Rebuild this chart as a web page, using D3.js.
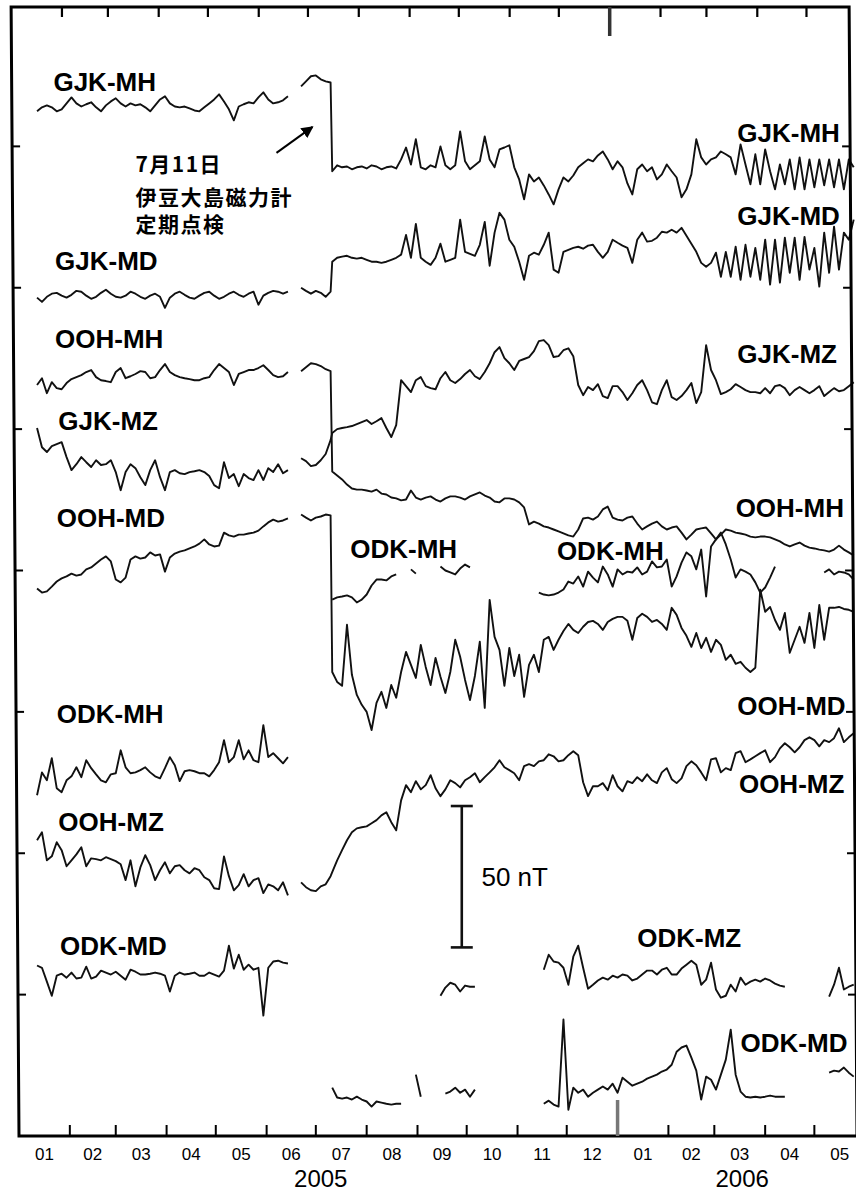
<!DOCTYPE html>
<html>
<head>
<meta charset="utf-8">
<script src="https://cdn.jsdelivr.net/npm/d3@7"></script>
<style>
  html, body { margin: 0; padding: 0; background: #fff; overflow: hidden; }
  svg { display: block; }
</style>
</head>
<body>
<svg id="chart" width="856" height="1192" viewBox="0 0 856 1192"></svg>
<script>
// ---- Sampling of the records (one value every 3 days) ----
const leftStart = "2005-01-12";   // first block, up to mid June 2005
const preStart  = "2005-06-22";   // after the June gap, up to 10 July
const postStart = "2005-07-11";   // from the 11 July inspection onward
const stepDays  = 3;

// Values in nT; each component is shifted for display (50 nT per axis tick).
// ---- GJK ----
const gjkMH_left = [362.4, 363.8, 364.5, 363.8, 362.4, 363.1, 365.2, 367.3, 365.2, 364.1,
  364.9, 365.6, 363.8, 362.4, 364.5, 365.9, 367.0, 365.2, 364.1, 365.2,
  364.5, 364.9, 363.8, 362.4, 364.5, 366.6, 367.7, 365.2, 364.1, 363.8,
  364.1, 363.4, 362.7, 362.4, 363.8, 365.2, 366.6, 368.4, 365.9, 363.1,
  359.2, 364.1, 364.9, 365.6, 365.2, 367.3, 369.1, 366.6, 365.2, 365.6,
  366.3, 367.7];
const gjkMH_pre = [371.2, 373.0, 374.8, 375.1, 373.7, 373.0, 372.6];
const gjkMH_post = [341.2, 343.3, 342.6, 342.9, 341.9, 342.6, 342.9, 342.2, 343.3, 342.9,
  341.9, 342.6, 342.9, 342.2, 345.4, 349.6, 343.6, 352.5, 342.6, 341.9,
  343.3, 342.6, 350.0, 343.3, 341.9, 343.3, 355.3, 344.7, 341.9, 343.3,
  344.7, 353.5, 345.4, 342.6, 348.9, 349.6, 350.4, 342.6, 338.3, 331.3,
  340.1, 337.6, 339.0, 336.2, 333.0, 329.5, 334.8, 339.0, 337.6, 339.7,
  342.6, 344.0, 345.4, 344.7, 346.8, 348.2, 345.4, 341.9, 344.7, 342.6,
  336.9, 333.0, 341.9, 343.6, 341.2, 342.6, 338.3, 340.1, 343.6, 341.2,
  339.0, 332.0, 334.8, 340.1, 352.5, 346.1, 343.6, 345.4, 346.1, 348.2,
  347.2, 346.1, 340.1, 350.7, 343.6, 336.6, 347.2, 336.6, 348.9, 341.2,
  334.8, 343.6, 336.6, 345.4, 334.8, 346.1, 334.8, 345.4, 335.5, 345.4,
  336.2, 345.4, 335.5, 345.4, 334.8, 345.4, 342.6];

const gjkMD_left = [296.5, 295.0, 296.8, 297.9, 298.2, 297.2, 296.5, 297.5, 298.9, 298.6,
  297.2, 296.1, 296.8, 298.2, 299.3, 297.9, 296.8, 296.5, 297.2, 298.6,
  297.9, 296.8, 296.1, 297.2, 297.9, 296.8, 292.9, 296.5, 297.9, 298.6,
  297.5, 296.5, 296.1, 297.2, 298.2, 298.6, 297.2, 296.1, 296.8, 297.9,
  298.6, 297.5, 296.8, 297.9, 298.6, 294.0, 297.2, 298.2, 298.9, 298.6,
  297.9, 298.6];
const gjkMD_pre = [300.0, 298.9, 297.9, 298.9, 298.2, 296.8, 298.6];
const gjkMD_post = [309.2, 310.6, 311.0, 311.3, 310.6, 310.3, 310.6, 309.9, 309.2, 309.2,
  308.8, 309.2, 309.9, 310.6, 311.7, 318.7, 310.6, 322.6, 310.6, 309.2,
  308.1, 310.6, 315.6, 309.2, 309.9, 310.6, 324.1, 312.7, 312.0, 311.3,
  315.2, 323.3, 307.8, 319.5, 326.5, 324.1, 317.0, 314.5, 309.2, 302.8,
  311.3, 312.4, 311.7, 315.2, 319.5, 306.4, 305.3, 312.7, 313.4, 314.1,
  314.5, 313.8, 314.9, 315.2, 312.7, 310.6, 312.7, 317.0, 315.9, 314.9,
  314.1, 308.8, 317.0, 319.5, 316.3, 316.6, 317.7, 319.8, 319.5, 320.5,
  319.5, 321.2, 318.4, 315.6, 312.7, 308.8, 307.4, 308.8, 312.4, 303.9,
  312.7, 303.9, 314.5, 302.8, 315.2, 303.9, 314.1, 302.8, 317.0, 301.1,
  317.0, 301.8, 317.7, 305.3, 317.7, 302.8, 318.0, 306.4, 314.1, 300.4,
  319.5, 305.3, 321.6, 306.4, 319.5, 317.0, 324.1];

const gjkMZ_left = [250.4, 243.6, 241.9, 244.0, 244.7, 245.4, 240.1, 235.5, 237.6, 240.1,
  238.3, 236.6, 239.0, 237.3, 237.6, 239.0, 234.8, 228.4, 234.8, 237.6,
  236.2, 233.0, 230.2, 235.5, 239.0, 233.0, 228.4, 234.8, 235.5, 234.4,
  234.1, 234.8, 235.1, 235.5, 234.8, 233.4, 230.2, 229.1, 238.3, 232.7,
  234.1, 229.8, 234.1, 232.7, 232.0, 235.5, 232.0, 236.2, 234.8, 237.6,
  234.4, 235.5];
const gjkMZ_pre = [239.7, 238.7, 236.9, 237.3, 239.0, 241.2, 246.1];
const gjkMZ_post = [248.6, 250.0, 250.4, 250.7, 251.1, 251.8, 252.5, 253.2, 251.8, 252.8,
  253.9, 250.4, 247.2, 251.4, 267.3, 265.2, 263.1, 267.3, 268.4, 265.2,
  264.5, 264.1, 268.0, 270.2, 267.3, 266.3, 267.7, 269.5, 270.9, 268.7,
  267.7, 270.2, 273.3, 277.2, 279.0, 275.1, 273.3, 270.9, 274.1, 274.8,
  275.5, 277.6, 281.1, 281.5, 279.7, 275.5, 275.8, 277.9, 278.6, 275.8,
  265.6, 262.0, 264.9, 263.8, 265.9, 261.7, 261.0, 265.2, 265.2, 263.1,
  260.3, 262.7, 265.6, 267.3, 263.8, 259.5, 258.8, 263.8, 267.3, 261.3,
  260.3, 261.7, 263.8, 266.3, 259.2, 263.1, 279.7, 270.9, 267.3, 262.4,
  263.1, 264.1, 265.9, 264.9, 263.8, 263.1, 263.1, 262.7, 264.5, 262.7,
  265.2, 265.6, 264.5, 262.0, 263.8, 264.9, 263.8, 262.7, 263.8, 265.2,
  261.7, 263.1, 264.5, 263.4, 263.8, 265.2, 266.6];

// ---- OOH ----
const oohMH_left = [265.6, 268.0, 262.7, 266.6, 264.5, 264.1, 266.3, 267.7, 268.4, 269.1,
  270.2, 270.9, 268.4, 267.3, 267.0, 266.6, 270.2, 271.6, 268.0, 268.7,
  269.5, 270.5, 270.2, 268.0, 268.4, 270.9, 273.0, 270.2, 269.1, 268.4,
  268.0, 267.7, 267.3, 267.3, 268.0, 268.4, 270.9, 273.0, 271.6, 270.2,
  265.6, 269.5, 270.2, 270.9, 270.9, 271.6, 272.6, 270.9, 269.1, 268.4,
  268.7, 270.2];
const oohMH_pre = [270.5, 271.9, 273.3, 273.0, 272.3, 271.2, 270.5];
const oohMH_post = [235.0, 233.6, 232.2, 230.4, 229.0, 228.6, 228.6, 228.3, 227.9, 228.6,
  227.2, 226.9, 225.8, 225.5, 224.8, 225.1, 228.3, 225.8, 225.1, 225.8,
  226.2, 225.1, 224.4, 225.5, 226.2, 226.2, 225.8, 225.1, 226.2, 226.9,
  227.6, 226.5, 225.8, 224.4, 224.1, 225.5, 225.5, 225.1, 224.1, 222.3,
  216.3, 217.3, 216.6, 215.6, 215.2, 214.5, 213.8, 213.1, 212.4, 212.0,
  214.5, 218.4, 218.7, 218.0, 219.1, 221.6, 222.6, 218.7, 218.0, 217.7,
  218.7, 219.1, 216.6, 214.5, 215.6, 216.6, 217.3, 215.6, 214.5, 215.2,
  215.6, 213.4, 211.0, 212.7, 214.5, 214.9, 215.2, 213.1, 211.0, 212.7,
  214.5, 214.1, 213.4, 213.1, 212.7, 212.0, 211.7, 212.0, 212.0, 211.7,
  211.0, 210.3, 209.2, 208.5, 209.2, 209.9, 208.8, 208.1, 207.8, 207.4,
  207.1, 206.7, 207.4, 208.8, 207.4, 206.4, 205.3];

const oohMD_left = [193.6, 192.2, 192.6, 194.3, 196.1, 197.2, 197.9, 198.9, 198.2, 198.6,
  200.4, 201.1, 202.5, 203.9, 205.0, 203.2, 196.8, 195.8, 197.5, 203.9,
  205.0, 204.2, 204.6, 206.4, 205.3, 205.7, 199.6, 204.6, 206.0, 206.7,
  207.1, 207.8, 208.5, 209.5, 211.0, 209.2, 208.5, 208.8, 213.4, 212.4,
  212.0, 212.7, 212.7, 213.1, 213.4, 214.1, 215.6, 217.0, 218.0, 217.3,
  217.7, 218.4];
const oohMD_pre = [219.8, 218.7, 217.7, 218.7, 219.1, 219.8, 219.5];
const oohMD_post = [164.1, 160.6, 159.2, 180.8, 163.1, 156.0, 152.5, 150.0, 143.6, 153.2,
  157.1, 151.4, 159.5, 155.0, 164.1, 171.2, 166.6, 162.0, 173.7, 165.9,
  159.5, 169.1, 162.4, 156.7, 164.1, 175.5, 169.5, 161.3, 154.2, 162.7,
  174.8, 151.4, 189.6, 176.5, 171.9, 159.2, 172.6, 162.7, 170.2, 155.3,
  166.6, 170.2, 164.1, 175.5, 176.5, 171.9, 175.5, 178.6, 181.1, 179.0,
  177.9, 180.1, 181.8, 182.2, 181.1, 179.0, 181.8, 182.9, 183.6, 183.6,
  182.2, 175.5, 183.2, 184.7, 183.6, 181.8, 182.5, 181.1, 179.0, 186.8,
  184.3, 179.7, 176.9, 173.0, 177.9, 172.6, 176.2, 171.2, 175.5, 173.7,
  168.4, 170.2, 167.0, 167.7, 165.6, 164.1, 165.6, 193.2, 185.4, 187.1,
  182.5, 179.0, 185.0, 170.9, 175.5, 180.1, 174.4, 185.0, 172.6, 187.8,
  175.5, 186.8, 186.8, 187.1, 186.4, 186.1, 185.4];

const oohMZ_left = [104.6, 107.4, 97.5, 98.9, 103.9, 101.1, 95.4, 97.5, 99.6, 102.1,
  95.4, 98.2, 97.9, 97.5, 98.6, 97.9, 97.2, 96.1, 90.5, 97.5,
  88.3, 95.0, 99.3, 95.8, 90.5, 94.0, 96.8, 92.9, 95.4, 95.8,
  94.0, 92.9, 94.7, 94.0, 91.5, 90.5, 87.6, 87.3, 98.9, 91.9,
  86.9, 88.7, 92.6, 88.3, 90.5, 91.2, 85.9, 89.0, 88.3, 86.9,
  89.7, 85.1];
const oohMZ_pre = [89.7, 88.0, 86.9, 86.6, 88.3, 89.0, 91.9];
const oohMZ_post = [93.3, 97.5, 101.1, 104.6, 107.4, 108.8, 109.2, 109.5, 110.6, 111.7,
  113.4, 114.5, 111.0, 108.1, 118.7, 124.1, 121.6, 125.5, 122.6, 124.1,
  127.6, 123.0, 120.2, 122.6, 125.8, 124.8, 123.3, 125.8, 126.9, 128.3,
  125.1, 126.9, 128.6, 130.4, 132.9, 130.4, 129.4, 128.3, 125.8, 130.8,
  131.5, 130.8, 132.5, 132.9, 135.0, 134.3, 132.5, 132.9, 134.7, 136.1,
  134.7, 125.1, 120.2, 123.7, 123.7, 124.8, 122.3, 127.6, 123.7, 121.9,
  125.5, 124.8, 126.9, 125.5, 127.9, 125.8, 124.8, 128.6, 130.1, 126.2,
  124.8, 126.5, 130.8, 132.5, 131.1, 128.6, 125.8, 133.2, 133.6, 128.6,
  130.1, 129.4, 135.4, 136.1, 132.2, 133.2, 134.3, 135.4, 136.4, 132.2,
  134.0, 137.1, 138.9, 137.5, 135.7, 137.5, 140.0, 141.0, 140.0, 137.8,
  140.0, 139.3, 140.7, 144.2, 139.3, 141.0, 142.4];

// ---- ODK (null = no record) ----
const odkMH_left = [120.5, 128.6, 125.8, 133.6, 123.0, 121.6, 125.8, 127.2, 130.4, 126.9,
  132.9, 130.1, 127.9, 125.8, 125.1, 127.9, 128.3, 136.4, 130.4, 128.3,
  128.6, 129.4, 130.4, 128.6, 127.2, 126.5, 130.1, 134.0, 131.1, 125.5,
  129.0, 129.4, 129.0, 128.3, 128.3, 127.2, 129.4, 132.2, 140.0, 132.2,
  134.0, 140.0, 133.2, 136.4, 132.9, 132.2, 145.3, 134.0, 135.4, 133.6,
  131.8, 134.0];
const odkMH_post = [189.7, 190.5, 190.8, 191.2, 190.5, 188.7, 189.7, 191.5, 194.7, 196.8,
  196.8, 196.5, 197.9, 198.6, null, null, 200.4, 198.9, null, null,
  null, null, 201.4, 200.0, 199.3, 198.6, 200.7, 202.1, 201.1, null,
  null, null, null, null, null, null, null, null, null, null,
  null, null, 192.2, 191.5, 191.2, 191.5, 192.2, 193.3, 196.1, 195.4,
  197.9, 194.3, 199.6, 197.5, 195.8, 201.4, 198.6, 194.3, 200.4, 198.6,
  199.6, 199.3, 201.1, 198.6, 199.6, 203.2, 201.1, 201.4, 203.9, 194.3,
  197.9, 202.8, 206.4, 205.0, 200.4, 207.4, 190.8, 208.5, 211.0, 213.4,
  209.2, 203.9, 197.5, 200.4, 199.6, 198.6, 195.8, 192.2, 194.0, 197.5,
  201.4, null, null, null, null, null, null, null, null, null,
  199.3, 200.4, 198.6, 199.6, 199.3, 198.6, 196.8];

const odkMZ_post = [null, null, null, null, null, null, null, null, null, null,
  null, null, null, null, null, null, null, null, null, null,
  null, null, 49.6, 52.5, 54.2, 53.5, 51.1, 53.2, 52.8, 52.8,
  null, null, null, null, null, null, null, null, null, null,
  null, null, null, 58.8, 64.1, 61.7, 61.3, 59.5, 53.5, 63.4,
  67.3, 59.5, 52.1, 53.5, 55.0, 56.0, 55.3, 56.7, 56.0, 57.1,
  56.7, 55.0, 55.7, 57.1, 58.5, 58.5, 57.1, 58.8, 59.5, 57.1,
  57.1, 59.2, 60.6, 62.0, 60.6, 53.5, 55.3, 61.3, 51.8, 48.9,
  49.6, 53.5, 51.1, 56.0, 53.5, 54.6, 55.3, 54.6, 55.7, 55.0,
  53.9, 53.2, 52.8, null, null, null, null, null, null, null,
  null, 49.3, 53.5, 59.5, 51.8, 52.8, 53.5];

const odkMD_left = [60.3, 59.5, 54.6, 49.6, 56.7, 57.4, 56.0, 57.8, 55.7, 56.0,
  59.9, 55.7, 56.4, 58.5, 57.8, 57.1, 58.1, 56.7, 55.3, 58.8,
  58.1, 57.1, 57.1, 57.4, 57.8, 57.4, 56.7, 51.1, 56.7, 57.8,
  57.1, 57.4, 57.8, 56.7, 56.7, 57.8, 57.1, 56.4, 58.5, 67.3,
  59.2, 64.1, 58.8, 60.6, 58.8, 59.5, 42.6, 59.5, 61.7, 62.0,
  61.3, 61.0];
const odkMD_post = [17.1, 13.6, 13.2, 13.6, 12.9, 13.9, 12.9, 12.2, 10.4, 12.2,
  11.8, 11.4, 11.1, 11.4, 11.4, null, null, 21.7, 13.9, null,
  null, null, null, 15.0, 15.7, 17.1, 15.3, 16.4, 13.9, 16.4,
  null, null, null, null, null, null, null, null, null, null,
  null, null, null, 11.4, 12.5, 11.1, 10.4, 41.2, 9.3, 17.1,
  15.3, 16.4, 13.9, 15.3, 16.4, 17.5, 16.4, 18.5, 15.3, 20.6,
  19.2, 17.8, 18.5, 19.2, 20.3, 21.0, 21.7, 22.8, 23.5, 25.2,
  29.8, 31.3, 32.0, 27.7, 23.1, 12.9, 21.0, 19.9, 16.4, 21.7,
  27.0, 37.6, 21.7, 15.7, 13.9, 13.6, 13.9, 13.6, 13.9, 14.3,
  13.9, 13.9, 13.9, null, null, null, null, null, null, null,
  null, 22.4, 23.1, 22.8, 24.2, 22.4, 21.0];

// ---- Axis text ----
const monthLabels = ["01", "02", "03", "04", "05", "06", "07", "08", "09", "10", "11", "12",
  "01", "02", "03", "04", "05"];
const yearLabels = [{ text: "2005", date: "2005-07-04" }, { text: "2006", date: "2006-03-18" }];
const tickStep = 50; // nT between axis ticks

// ---- Component names, placed beside their traces ----
const traceLabels = [
  { text: "GJK-MH", date: "2005-01-22", value: 369.6 },
  { text: "GJK-MD", date: "2005-01-23", value: 306.3 },
  { text: "OOH-MH", date: "2005-01-23", value: 278.7 },
  { text: "GJK-MZ", date: "2005-01-25", value: 249.7 },
  { text: "OOH-MD", date: "2005-01-24", value: 215.4 },
  { text: "ODK-MH", date: "2005-01-24", value: 146.1 },
  { text: "OOH-MZ", date: "2005-01-25", value: 107.9 },
  { text: "ODK-MD", date: "2005-01-26", value: 64.0 },
  { text: "GJK-MH", date: "2006-03-15", value: 351.5 },
  { text: "GJK-MD", date: "2006-03-15", value: 322.2 },
  { text: "GJK-MZ", date: "2006-03-15", value: 273.4 },
  { text: "OOH-MH", date: "2006-03-14", value: 218.9 },
  { text: "ODK-MH", date: "2005-07-22", value: 204.4 },
  { text: "ODK-MH", date: "2005-11-25", value: 203.7 },
  { text: "OOH-MD", date: "2006-03-15", value: 148.9 },
  { text: "OOH-MZ", date: "2006-03-16", value: 121.3 },
  { text: "ODK-MZ", date: "2006-01-13", value: 66.8 },
  { text: "ODK-MD", date: "2006-03-17", value: 29.7 }
];

const noteLines = [
  { text: "7月11日", value: 340.9 },
  { text: "伊豆大島磁力計", value: 329.3 },
  { text: "定期点検", value: 319.7 }
];
const noteDate = "2005-03-13";
const noteArrow = { from: { date: "2005-06-07", value: 347.7 }, to: { date: "2005-06-29", value: 356.9 } };

const scaleBar = { date: "2005-09-28", base: 66.7, length: 50, label: "50 nT", labelDate: "2005-10-10", labelValue: 88.4 };

// ---- Drawing ----
const parseDate = d3.utcParse("%Y-%m-%d");
const svg = d3.select("#chart");

const x = d3.scaleUtc()
  .domain([parseDate("2005-01-01"), parseDate("2006-05-27")])
  .range([19, 857]);
const y = d3.scaleLinear().domain([0, 400]).range([1136, 5]);

function samples(start, values) {
  const t0 = parseDate(start);
  return values.map((v, i) => ({ date: d3.utcDay.offset(t0, i * stepDays), v }));
}

const traces = [
  { left: gjkMH_left, pre: gjkMH_pre, post: gjkMH_post },
  { left: gjkMD_left, pre: gjkMD_pre, post: gjkMD_post },
  { left: gjkMZ_left, pre: gjkMZ_pre, post: gjkMZ_post },
  { left: oohMH_left, pre: oohMH_pre, post: oohMH_post },
  { left: oohMD_left, pre: oohMD_pre, post: oohMD_post },
  { left: oohMZ_left, pre: oohMZ_pre, post: oohMZ_post },
  { left: odkMH_left, pre: null, post: odkMH_post },
  { left: null, pre: null, post: odkMZ_post },
  { left: odkMD_left, pre: null, post: odkMD_post }
];

const line = d3.line()
  .defined(d => d.v !== null)
  .x(d => x(d.date))
  .y(d => y(d.v));

const traceG = svg.append("g")
  .attr("fill", "none")
  .attr("stroke", "#111")
  .attr("stroke-width", 1.9)
  .attr("stroke-linejoin", "round");

traces.forEach(t => {
  if (t.left) traceG.append("path").attr("d", line(samples(leftStart, t.left)));
  const right = (t.pre ? samples(preStart, t.pre) : []).concat(samples(postStart, t.post));
  traceG.append("path").attr("d", line(right));
});

// frame and ticks; the sheet's frame leans slightly to the left towards the top
const [x0, x1] = x.range();
const yBottom = y(0);
const yTop = y(400) + 2;                              // top edge of the frame
const lean = Math.tan(0.4 * Math.PI / 180);
const fx = (px, py) => px - lean * (yBottom - py);   // leaning x position at height py

const frameG = svg.append("g").attr("stroke", "#000").attr("fill", "none");
frameG.append("path")
  .attr("d", `M${fx(x0, yTop)},${yTop}L${fx(x1, yTop)},${yTop}L${x1},${yBottom}L${x0},${yBottom}Z`)
  .attr("stroke-width", 3);

const monthTicks = d3.utcMonth.range(parseDate("2005-02-01"), x.domain()[1]);
const isYear = d => d.getUTCMonth() === 0;

// month ticks point inward from the bottom and top edges; the year change is marked longer
frameG.append("g").selectAll("line")
  .data(monthTicks)
  .join("line")
  .attr("x1", d => x(d)).attr("x2", d => x(d))
  .attr("y1", yBottom).attr("y2", d => yBottom - (isYear(d) ? 36 : 11))
  .attr("stroke", d => isYear(d) ? "#777" : "#000")
  .attr("stroke-width", d => isYear(d) ? 3.5 : 2);
frameG.append("g").selectAll("line")
  .data(monthTicks)
  .join("line")
  .attr("x1", d => fx(x(d), yTop)).attr("x2", d => fx(x(d), yTop))
  .attr("y1", yTop).attr("y2", d => yTop + (isYear(d) ? 29 : 10))
  .attr("stroke", d => isYear(d) ? "#333" : "#000")
  .attr("stroke-width", d => isYear(d) ? 3.5 : 2.2);

// value ticks every 50 nT on both sides
const yTicks = d3.range(tickStep, 400, tickStep);
frameG.append("g").selectAll("line")
  .data(yTicks)
  .join("line")
  .attr("x1", d => fx(x0, y(d))).attr("x2", d => fx(x0, y(d)) + 8)
  .attr("y1", d => y(d)).attr("y2", d => y(d))
  .attr("stroke-width", 2);
frameG.append("g").selectAll("line")
  .data(yTicks)
  .join("line")
  .attr("x1", d => fx(x1, y(d))).attr("x2", d => fx(x1, y(d)) - 8)
  .attr("y1", d => y(d)).attr("y2", d => y(d))
  .attr("stroke-width", 2);

// month and year labels under the axis
const jan2005 = parseDate("2005-01-01");
svg.append("g")
  .attr("font-family", "'Liberation Sans', Arial, sans-serif")
  .attr("font-size", 17)
  .attr("text-anchor", "middle")
  .selectAll("text")
  .data(monthLabels)
  .join("text")
  .attr("x", (d, i) => (x(d3.utcMonth.offset(jan2005, i)) + x(d3.utcMonth.offset(jan2005, i + 1))) / 2)
  .attr("y", yBottom + 24)
  .text(d => d);

svg.append("g")
  .attr("font-family", "'Liberation Sans', Arial, sans-serif")
  .attr("font-size", 24)
  .attr("text-anchor", "middle")
  .selectAll("text")
  .data(yearLabels)
  .join("text")
  .attr("x", d => x(parseDate(d.date)))
  .attr("y", yBottom + 50.5)
  .text(d => d.text);

// component names
svg.append("g")
  .attr("font-family", "'Liberation Sans', Arial, Helvetica, sans-serif")
  .attr("font-weight", "bold")
  .attr("font-size", 26)
  .attr("fill", "#000")
  .selectAll("text")
  .data(traceLabels)
  .join("text")
  .attr("x", d => x(parseDate(d.date)))
  .attr("y", d => y(d.value))
  .text(d => d.text);

// note about the 11 July magnetometer inspection
svg.append("g")
  .attr("font-family", "'Noto Sans CJK JP', 'Noto Sans CJK SC', sans-serif")
  .attr("font-weight", "bold")
  .attr("font-size", 21)
  .attr("letter-spacing", 1.5)
  .selectAll("text")
  .data(noteLines)
  .join("text")
  .attr("x", x(parseDate(noteDate)))
  .attr("y", d => y(d.value))
  .text(d => d.text);

svg.append("defs").append("marker")
  .attr("id", "head")
  .attr("viewBox", "0 0 10 10")
  .attr("refX", 9).attr("refY", 5)
  .attr("markerWidth", 6).attr("markerHeight", 6)
  .attr("markerUnits", "strokeWidth")
  .attr("orient", "auto")
  .append("path").attr("d", "M0,0 L10,5 L0,10 Z").attr("fill", "#000");

svg.append("line")
  .attr("x1", x(parseDate(noteArrow.from.date))).attr("y1", y(noteArrow.from.value))
  .attr("x2", x(parseDate(noteArrow.to.date))).attr("y2", y(noteArrow.to.value))
  .attr("stroke", "#000").attr("stroke-width", 2)
  .attr("marker-end", "url(#head)");

// 50 nT scale bar
const barX = x(parseDate(scaleBar.date));
const barG = svg.append("g").attr("stroke", "#111").attr("stroke-width", 2.6);
barG.append("line")
  .attr("x1", barX).attr("x2", barX)
  .attr("y1", y(scaleBar.base)).attr("y2", y(scaleBar.base + scaleBar.length));
[scaleBar.base, scaleBar.base + scaleBar.length].forEach(v => {
  barG.append("line")
    .attr("x1", barX - 11).attr("x2", barX + 11)
    .attr("y1", y(v)).attr("y2", y(v));
});
svg.append("text")
  .attr("x", x(parseDate(scaleBar.labelDate)))
  .attr("y", y(scaleBar.labelValue))
  .attr("font-family", "'Liberation Sans', Arial, sans-serif")
  .attr("font-size", 26)
  .text(scaleBar.label);
</script>
</body>
</html>
